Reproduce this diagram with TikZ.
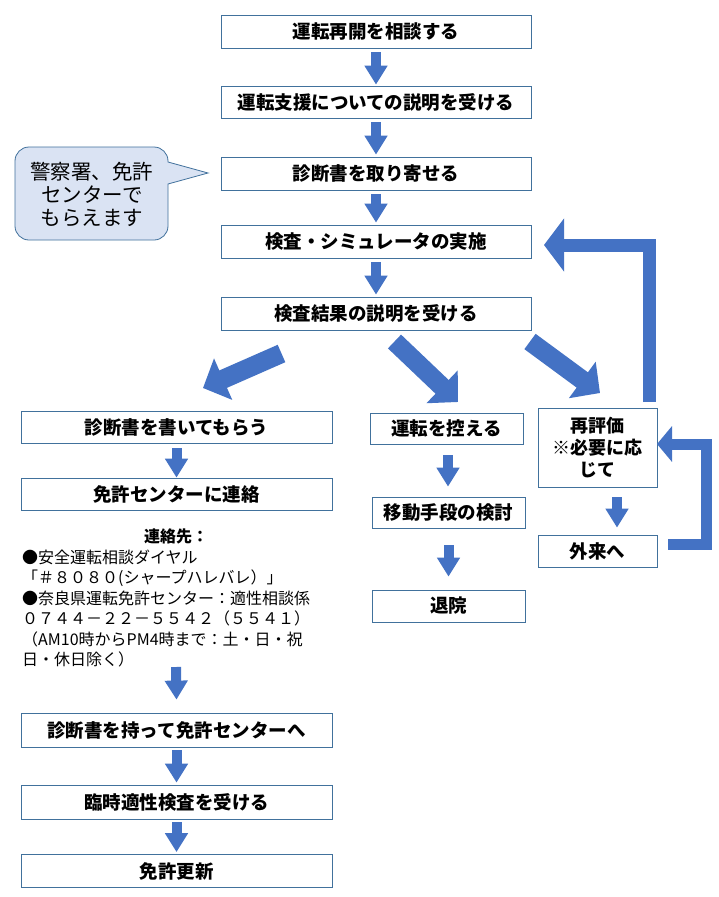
\documentclass[tikz,border=0pt]{standalone}
\usepackage{fontspec}
\setmainfont{Noto Sans CJK JP}
\usetikzlibrary{arrows.meta}
\definecolor{ablue}{HTML}{4472C4}
\definecolor{bline}{HTML}{41719C}
\definecolor{cfill}{HTML}{DAE3F3}
\tikzset{
  flowbox/.style={draw=bline, line width=0.8pt, fill=white, inner sep=0pt, align=center,
    font=\bfseries\fontsize{18.5}{21}\selectfont},
  smallarrow/.style={draw=ablue, line width=10pt, -{Triangle[length=19pt,width=22pt]}},
  bigarrow/.style={draw=ablue, line width=19pt, -{Triangle[length=22pt,width=44pt]}},
  loopa/.style={draw=ablue, line width=13pt, line join=miter, -{Triangle[length=20pt,width=52pt]}},
  loopb/.style={draw=ablue, line width=11pt, line join=miter, -{Triangle[length=15pt,width=35pt]}},
  contact/.style={anchor=west, inner sep=0pt, font=\fontsize{16}{18}\selectfont},
  callout/.style={draw=bline, line width=0.8pt, fill=cfill},
  callouttext/.style={inner sep=0pt, font=\fontsize{20.5}{23}\selectfont, align=center},
}
\begin{document}
\begin{tikzpicture}[x=1pt, y=-1pt]
\useasboundingbox (0,0) rectangle (718,897);
\fill[white] (0,0) rectangle (718,897);

% central column
\node[flowbox, minimum width=310pt, minimum height=33pt] (b1) at (376,31.5) {運転再開を相談する};
\node[flowbox, minimum width=310pt, minimum height=32pt] (b2) at (376,102) {運転支援についての説明を受ける};
\node[flowbox, minimum width=310pt, minimum height=33pt] (b3) at (376,173.5) {診断書を取り寄せる};
\node[flowbox, minimum width=310pt, minimum height=33pt] (b4) at (376,241.5) {検査・シミュレータの実施};
\node[flowbox, minimum width=310pt, minimum height=33pt] (b5) at (376,313.5) {検査結果の説明を受ける};

% left column
\node[flowbox, minimum width=311pt, minimum height=32pt] (b6) at (176.5,427) {診断書を書いてもらう};
\node[flowbox, minimum width=311pt, minimum height=32pt] (b7) at (176.5,494) {免許センターに連絡};
\node[flowbox, minimum width=311pt, minimum height=34pt] (b8) at (176.5,730) {診断書を持って免許センターへ};
\node[flowbox, minimum width=311pt, minimum height=34pt] (b9) at (176.5,802) {臨時適性検査を受ける};
\node[flowbox, minimum width=311pt, minimum height=33pt] (b10) at (176.5,871) {免許更新};

% middle column
\node[flowbox, minimum width=153pt, minimum height=31pt] (b11) at (446.5,428.5) {運転を控える};
\node[flowbox, minimum width=153pt, minimum height=31pt] (b12) at (448.5,512.5) {移動手段の検討};
\node[flowbox, minimum width=153pt, minimum height=32pt] (b13) at (448.5,606) {退院};

% right column
\node[flowbox, minimum width=119pt, minimum height=79pt, font=\bfseries\fontsize{18}{22}\selectfont] (b14) at (597.5,447.5) {再評価\\※必要に応\\じて};
\node[flowbox, minimum width=119pt, minimum height=32pt] (b15) at (597.5,551) {外来へ};

% contact text
\node[inner sep=0pt, font=\bfseries\fontsize{16}{18}\selectfont] (c0) at (176,536) {連絡先：};
\node[contact] (c1) at (22,557) {●安全運転相談ダイヤル};
\node[contact] (c2) at (22,578) {「＃８０８０(シャープハレバレ）」};
\node[contact] (c3) at (22,598) {●奈良県運転免許センター：適性相談係};
\node[contact] (c4) at (22,618) {０７４４－２２－５５４２（５５４１）};
\node[contact] (c5) at (22,639) {（AM10時からPM4時まで：土・日・祝};
\node[contact] (c6) at (22,659) {日・休日除く）};
\coordinate (c6a) at (176,667);

% callout
\draw[callout] (15,195) [rounded corners=14pt] -- (15,147) -- (168,147) [sharp corners] -- (168,162)
  -- (208,173) -- (168,184) [rounded corners=14pt] -- (168,240) -- (15,240) [sharp corners] -- cycle;
\node[callouttext] (ct) at (92,195) {警察署、免許\\センターで\\もらえます};

% small arrows
\draw[smallarrow] ([yshift=-4pt]b1.south) -- ([yshift=1pt]b2.north);
\draw[smallarrow] ([yshift=-4pt]b2.south) -- ([yshift=2pt]b3.north);
\draw[smallarrow] ([yshift=-4pt]b3.south) -- ([yshift=2pt]b4.north);
\draw[smallarrow] ([yshift=-4pt]b4.south) -- ([yshift=2pt]b5.north);
\draw[smallarrow] ([yshift=-5pt]b6.south) -- (b7.north);
\draw[smallarrow] (c6a) -- ([yshift=13pt]b8.north);
\draw[smallarrow] ([yshift=-3pt]b8.south) -- ([yshift=2pt]b9.north);
\draw[smallarrow] ([yshift=-3pt]b9.south) -- ([yshift=2pt]b10.north);
\draw[smallarrow] ([xshift=1.5pt,yshift=-11pt]b11.south) -- ([xshift=-0.5pt,yshift=10pt]b12.north);
\draw[smallarrow] ([yshift=-17pt]b12.south) -- ([yshift=13pt]b13.north);
\draw[smallarrow] ([xshift=19.5pt,yshift=-10pt]b14.south) -- ([xshift=19.5pt,yshift=7pt]b15.north);

% diagonal arrows
\coordinate (d1s) at (281.5,353.5);
\coordinate (d1e) at (203,388);
\coordinate (d2s) at (394.5,341.5);
\coordinate (d2e) at (458,402);
\coordinate (d3s) at (530,341.5);
\coordinate (d3e) at (600,393);
\draw[bigarrow] (d1s) -- (d1e);
\draw[bigarrow] (d2s) -- (d2e);
\draw[bigarrow] (d3s) -- (d3e);

% loop arrows
\coordinate (la) at (649.5,402);
\coordinate (lae) at (544,245);
\draw[loopa] (la) -- (649.5,245) -- (lae);
\coordinate (lb) at (668,544);
\coordinate (lbe) at (657,444);
\draw[loopb] (lb) -- (706,544) -- (706,444) -- (lbe);
\end{tikzpicture}
\end{document}
